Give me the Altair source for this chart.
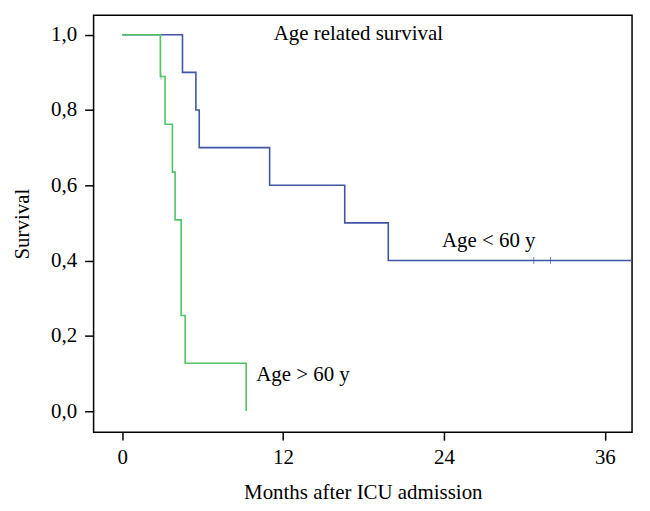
import altair as alt
import pandas as pd

# Kaplan-Meier step data
young_t = [0, 4.5, 5.5, 5.75, 11.0, 16.6, 19.85, 38.0]
young_s = [1.0, 0.9, 0.8, 0.7, 0.6, 0.5, 0.4, 0.4]
old_t = [0, 2.85, 3.2, 3.75, 3.95, 4.4, 4.7, 9.25]
old_s = [1.0, 0.889, 0.762, 0.635, 0.508, 0.254, 0.127, 0.0]

young_cens_t = [30.7, 31.95]
young_cens_s = [0.4, 0.4]
old_cens_t = [2.9]
old_cens_s = [0.889]

note_text = ["Age related survival", "Age < 60 y", "Age > 60 y"]
note_x = [11.3, 23.85, 10.0]
note_y = [1.003, 0.452, 0.095]

x_ticks = [0, 12, 24, 36]
y_ticks = [0.0, 0.2, 0.4, 0.6, 0.8, 1.0]

BLUE = "#3f55a5"
GREEN = "#4fc466"
FONT = "Liberation Serif"

young = pd.DataFrame({"t": young_t, "s": young_s})
old = pd.DataFrame({"t": old_t, "s": old_s})
yc = pd.DataFrame({"t": young_cens_t, "s": young_cens_s})
oc = pd.DataFrame({"t": old_cens_t, "s": old_cens_s})
notes = pd.DataFrame({"label": note_text, "t": note_x, "s": note_y})

xs = alt.Scale(domain=[-2.13, 38.03], nice=False, zero=False)
ys = alt.Scale(domain=[-0.056, 1.052], nice=False, zero=False)

xax = alt.Axis(values=x_ticks, title="Months after ICU admission", grid=False, domain=False,
               tickSize=8, tickColor="black", tickWidth=1.5, labelPadding=6,
               labelFont=FONT, labelFontSize=21, labelColor="black",
               titleFont=FONT, titleFontSize=21, titleFontWeight="normal",
               titleColor="black", titlePadding=15)
yax = alt.Axis(values=y_ticks, title="Survival", grid=False, domain=False,
               tickSize=9, tickColor="black", tickWidth=1.5, labelPadding=8,
               labelExpr="replace(format(datum.value, '.1f'), '.', ',')",
               labelFont=FONT, labelFontSize=21, labelColor="black",
               titleFont=FONT, titleFontSize=21, titleFontWeight="normal",
               titleColor="black", titlePadding=18)

base_x = alt.X("t:Q", scale=xs, axis=xax)
base_y = alt.Y("s:Q", scale=ys, axis=yax)

l_young = alt.Chart(young).mark_line(interpolate="step-after", color=BLUE, strokeWidth=1.6, clip=True).encode(
    x=base_x, y=base_y)
l_old = alt.Chart(old).mark_line(interpolate="step-after", color=GREEN, strokeWidth=1.6, clip=True).encode(
    x="t:Q", y="s:Q")
c_young = alt.Chart(yc).mark_tick(orient="vertical", color=BLUE, size=7, thickness=1).encode(
    x="t:Q", y="s:Q")
c_old = alt.Chart(oc).mark_tick(orient="vertical", color=GREEN, size=7, thickness=1).encode(
    x="t:Q", y="s:Q")
txt = alt.Chart(notes).mark_text(align="left", baseline="middle", font=FONT, fontSize=21, color="black").encode(
    x="t:Q", y="s:Q", text="label:N")

chart = alt.layer(l_young, l_old, c_young, c_old, txt).properties(
    width=541, height=419,
    autosize=alt.AutoSizeParams(type="none"),
    padding={"left": 86, "top": 6, "right": 10, "bottom": 70},
    background="white",
).configure_view(stroke="black", strokeWidth=1.5)

chart.save("out.html", embed_options={"renderer": "svg", "actions": False})
